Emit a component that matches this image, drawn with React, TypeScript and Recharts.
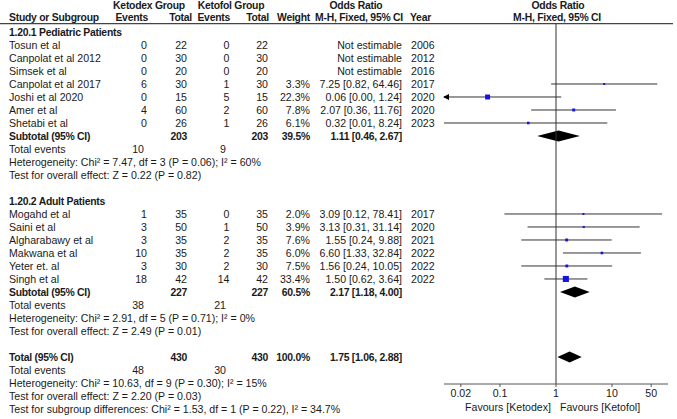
import React from 'react';
import { ScatterChart, Scatter, XAxis, YAxis, ReferenceLine, ReferenceArea } from 'recharts';

// ---- data ----
const pedStudies = ['Tosun et al', 'Canpolat et al 2012', 'Simsek et al', 'Canpolat et al 2017', 'Joshi et al 2020', 'Amer et al', 'Shetabi et al'];
const pedKetodexEvents = [0, 0, 0, 6, 0, 4, 0];
const pedKetodexTotal = [22, 30, 20, 30, 15, 60, 26];
const pedKetofolEvents = [0, 0, 0, 1, 5, 2, 1];
const pedKetofolTotal = [22, 30, 20, 30, 15, 60, 26];
const pedWeight = [null, null, null, 3.3, 22.3, 7.8, 6.1];
const pedOR = [null, null, null, 7.25, 0.06, 2.07, 0.32];
const pedLow = [null, null, null, 0.82, 0.0, 0.36, 0.01];
const pedHigh = [null, null, null, 64.46, 1.24, 11.76, 8.24];
const pedYear = [2006, 2012, 2016, 2017, 2020, 2020, 2023];

const adultStudies = ['Mogahd et al', 'Saini et al', 'Algharabawy et al', 'Makwana et al', 'Yeter et. al', 'Singh et al'];
const adultKetodexEvents = [1, 3, 3, 10, 3, 18];
const adultKetodexTotal = [35, 50, 35, 35, 30, 42];
const adultKetofolEvents = [0, 1, 2, 2, 2, 14];
const adultKetofolTotal = [35, 50, 35, 35, 30, 42];
const adultWeight = [2.0, 3.9, 7.6, 6.0, 7.5, 33.4];
const adultOR = [3.09, 3.13, 1.55, 6.6, 1.56, 1.5];
const adultLow = [0.12, 0.31, 0.24, 1.33, 0.24, 0.62];
const adultHigh = [78.41, 31.14, 9.88, 32.84, 10.05, 3.64];
const adultYear = [2017, 2020, 2021, 2022, 2022, 2022];

// subtotal / total: [ketodex total, ketofol total, weight, OR, low, high, ketodex events, ketofol events]
const pedSubtotal = [203, 203, 39.5, 1.11, 0.46, 2.67, 10, 9];
const adultSubtotal = [227, 227, 60.5, 2.17, 1.18, 4.0, 38, 21];
const overallTotal = [430, 430, 100.0, 1.75, 1.06, 2.88, 48, 30];

const pedHetero = 'Heterogeneity: Chi\u00B2 = 7.47, df = 3 (P = 0.06); I\u00B2 = 60%';
const pedEffect = 'Test for overall effect: Z = 0.22 (P = 0.82)';
const adultHetero = 'Heterogeneity: Chi\u00B2 = 2.91, df = 5 (P = 0.71); I\u00B2 = 0%';
const adultEffect = 'Test for overall effect: Z = 2.49 (P = 0.01)';
const totalHetero = 'Heterogeneity: Chi\u00B2 = 10.63, df = 9 (P = 0.30); I\u00B2 = 15%';
const totalEffect = 'Test for overall effect: Z = 2.20 (P = 0.03)';
const subgroupTest = 'Test for subgroup differences: Chi\u00B2 = 1.53, df = 1 (P = 0.22), I\u00B2 = 34.7%';

const axisTicks = [0.02, 0.1, 1, 10, 50];

// ---- layout ----
const FONT = '"Liberation Sans", Arial, Helvetica, sans-serif';
const FS = 10.6;
const FS_BOLD = 10.4;
const TEXT = '#1a1a1a';
const BLUE = '#1414e6';
const X_MIN = 0.01;
const COL = { name: 9, keEv: 147, keTot: 187, kfEv: 229.5, kfTot: 268, weight: 310, or: 402, year: 411, teKe: 144, teKf: 226 };

type Cell = { text: string; x: number; anchor: 'start' | 'middle' | 'end'; bold?: boolean };
type TextRow = { k: number; cells: Cell[]; rule?: boolean };

const f2 = (v: number) => v.toFixed(2);
const ciText = (o: number, l: number, h: number) => `${f2(o)} [${f2(l)}, ${f2(h)}]`;

const studyRows = (start: number, names: string[], kEv: number[], kTot: number[], fEv: number[], fTot: number[], w: (number | null)[], or: (number | null)[], lo: (number | null)[], hi: (number | null)[], yr: number[]): TextRow[] =>
  names.map((n, i) => ({
    k: start + i,
    cells: [
      { text: n, x: COL.name, anchor: 'start' },
      { text: String(kEv[i]), x: COL.keEv, anchor: 'end' },
      { text: String(kTot[i]), x: COL.keTot, anchor: 'end' },
      { text: String(fEv[i]), x: COL.kfEv, anchor: 'end' },
      { text: String(fTot[i]), x: COL.kfTot, anchor: 'end' },
      { text: w[i] == null ? '' : `${(w[i] as number).toFixed(1)}%`, x: COL.weight, anchor: 'end' },
      { text: or[i] == null ? 'Not estimable' : ciText(or[i] as number, lo[i] as number, hi[i] as number), x: COL.or, anchor: 'end' },
      { text: String(yr[i]), x: COL.year, anchor: 'start' },
    ],
  }));

const subtotalRows = (k: number, label: string, s: number[], hetero: string, effect: string): TextRow[] => [
  {
    k,
    cells: [
      { text: label, x: COL.name, anchor: 'start', bold: true },
      { text: String(s[0]), x: COL.keTot, anchor: 'end', bold: true },
      { text: String(s[1]), x: COL.kfTot, anchor: 'end', bold: true },
      { text: `${s[2].toFixed(1)}%`, x: COL.weight, anchor: 'end', bold: true },
      { text: ciText(s[3], s[4], s[5]), x: COL.or, anchor: 'end', bold: true },
    ],
  },
  {
    k: k + 1,
    cells: [
      { text: 'Total events', x: COL.name, anchor: 'start' },
      { text: String(s[6]), x: COL.teKe, anchor: 'end' },
      { text: String(s[7]), x: COL.teKf, anchor: 'end' },
    ],
  },
  { k: k + 2, cells: [{ text: hetero, x: COL.name, anchor: 'start' }] },
  { k: k + 3, cells: [{ text: effect, x: COL.name, anchor: 'start' }] },
];

const tableRows: TextRow[] = [
  {
    k: -2.08,
    cells: [
      { text: 'Ketodex Group', x: 149, anchor: 'middle', bold: true },
      { text: 'Ketofol Group', x: 231, anchor: 'middle', bold: true },
      { text: 'Odds Ratio', x: 356, anchor: 'middle', bold: true },
      { text: 'Odds Ratio', x: 558, anchor: 'middle', bold: true },
    ],
  },
  {
    k: -1.15,
    rule: true,
    cells: [
      { text: 'Study or Subgroup', x: COL.name, anchor: 'start', bold: true },
      { text: 'Events', x: 148, anchor: 'end', bold: true },
      { text: 'Total', x: 192, anchor: 'end', bold: true },
      { text: 'Events', x: 230, anchor: 'end', bold: true },
      { text: 'Total', x: 269, anchor: 'end', bold: true },
      { text: 'Weight', x: 310, anchor: 'end', bold: true },
      { text: 'M-H, Fixed, 95% CI', x: 359, anchor: 'middle', bold: true },
      { text: 'Year', x: 410, anchor: 'start', bold: true },
      { text: 'M-H, Fixed, 95% CI', x: 557, anchor: 'middle', bold: true },
    ],
  },
  { k: 0, cells: [{ text: '1.20.1 Pediatric Patients', x: COL.name, anchor: 'start', bold: true }] },
  ...studyRows(1, pedStudies, pedKetodexEvents, pedKetodexTotal, pedKetofolEvents, pedKetofolTotal, pedWeight, pedOR, pedLow, pedHigh, pedYear),
  ...subtotalRows(8, 'Subtotal (95% CI)', pedSubtotal, pedHetero, pedEffect),
  { k: 13, cells: [{ text: '1.20.2 Adult Patients', x: COL.name, anchor: 'start', bold: true }] },
  ...studyRows(14, adultStudies, adultKetodexEvents, adultKetodexTotal, adultKetofolEvents, adultKetofolTotal, adultWeight, adultOR, adultLow, adultHigh, adultYear),
  ...subtotalRows(20, 'Subtotal (95% CI)', adultSubtotal, adultHetero, adultEffect),
  ...subtotalRows(25, 'Total (95% CI)', overallTotal, totalHetero, totalEffect),
  { k: 29, cells: [{ text: subgroupTest, x: COL.name, anchor: 'start' }] },
];

// points / intervals for the forest panel
const makePoints = (start: number, or: (number | null)[], lo: (number | null)[], hi: (number | null)[], w: (number | null)[]) =>
  or.map((o, i) => (o == null ? null : { x: o, y: start + i, lo: lo[i] as number, hi: hi[i] as number, w: w[i] as number })).filter(Boolean) as { x: number; y: number; lo: number; hi: number; w: number }[];

const points = [...makePoints(1, pedOR, pedLow, pedHigh, pedWeight), ...makePoints(14, adultOR, adultLow, adultHigh, adultWeight)];
const diamonds = [
  { k: 8, lo: pedSubtotal[4], hi: pedSubtotal[5] },
  { k: 20, lo: adultSubtotal[4], hi: adultSubtotal[5] },
  { k: 25, lo: overallTotal[4], hi: overallTotal[5] },
];

const RowText = ({ y, row }: { y: number; row: TextRow }) => (
  <g>
    {row.rule && <line x1={0} x2={673} y1={y + 6.5} y2={y + 6.5} stroke="#444" strokeWidth={1.2} />}
    {row.cells.map((c, i) => (
      <text
        key={i}
        x={c.x}
        y={y}
        dy="0.36em"
        textAnchor={c.anchor}
        fontFamily={FONT}
        fontSize={c.bold ? FS_BOLD : FS}
        fontWeight={c.bold ? 700 : 400}
        letterSpacing={c.bold ? -0.25 : 0}
        fill={TEXT}
      >
        {c.text}
      </text>
    ))}
  </g>
);

const Square = (p: any) => {
  const s = Math.max(2, Math.sqrt(p.payload.w) * 1.05);
  return <rect x={p.cx - s / 2} y={p.cy - s / 2} width={s} height={s} fill={BLUE} />;
};

export default function App() {
  return (
    <div style={{ position: 'absolute', left: 0, top: 0, width: 677, height: 419, background: '#fff' }}>
      <ScatterChart width={677} height={419} margin={{ top: 6, right: 9, bottom: 0, left: 444 }}>
        <XAxis
          dataKey="x"
          type="number"
          scale="log"
          domain={[X_MIN, 100]}
          ticks={axisTicks}
          tickFormatter={(v: number) => String(v)}
          height={35}
          stroke="#555"
          tickSize={3}
          tickMargin={2}
          tick={{ fill: TEXT, fontSize: FS, fontFamily: FONT }}
          interval={0}
        />
        <YAxis dataKey="y" type="number" domain={[-2, 27.08]} reversed hide width={0} />

        {tableRows.map((r, i) => (
          <ReferenceLine key={`t${i}`} y={r.k} ifOverflow="visible" shape={(p: any) => <RowText y={p.y1} row={r} />} />
        ))}

        <ReferenceLine segment={[{ x: 1, y: -0.68 }, { x: 1, y: 27.08 }]} stroke="#333" strokeWidth={1} ifOverflow="visible" />

        {points.map((p, i) => {
          const clipped = p.lo < X_MIN;
          return (
            <ReferenceLine
              key={`ci${i}`}
              segment={[{ x: Math.max(p.lo, X_MIN), y: p.y }, { x: p.hi, y: p.y }]}
              ifOverflow="visible"
              shape={(s: any) => (
                <g>
                  <line x1={s.x1} x2={s.x2} y1={s.y1} y2={s.y2} stroke="#333" strokeWidth={1} />
                  {clipped && <polygon points={`${s.x1 - 1},${s.y1} ${s.x1 + 5},${s.y1 - 3} ${s.x1 + 5},${s.y1 + 3}`} fill="#000" />}
                </g>
              )}
            />
          );
        })}

        {diamonds.map((d, i) => (
          <ReferenceArea
            key={`d${i}`}
            x1={d.lo}
            x2={d.hi}
            y1={d.k - 0.42}
            y2={d.k + 0.42}
            ifOverflow="visible"
            shape={(s: any) => {
              const cx = s.x + s.width / 2;
              const cy = s.y + s.height / 2;
              return <polygon points={`${s.x},${cy} ${cx},${s.y} ${s.x + s.width},${cy} ${cx},${s.y + s.height}`} fill="#000" />;
            }}
          />
        ))}

        <Scatter data={points} shape={Square} isAnimationActive={false} />

        <ReferenceLine
          x={1}
          ifOverflow="visible"
          shape={(s: any) => (
            <g fontFamily={FONT} fontSize={FS} fill={TEXT}>
              <text x={s.x1 - 5} y={Math.max(s.y1, s.y2) + 23} dy="0.36em" textAnchor="end">Favours [Ketodex]</text>
              <text x={s.x1 + 4} y={Math.max(s.y1, s.y2) + 23} dy="0.36em" textAnchor="start">Favours [Ketofol]</text>
            </g>
          )}
        />
      </ScatterChart>
    </div>
  );
}
